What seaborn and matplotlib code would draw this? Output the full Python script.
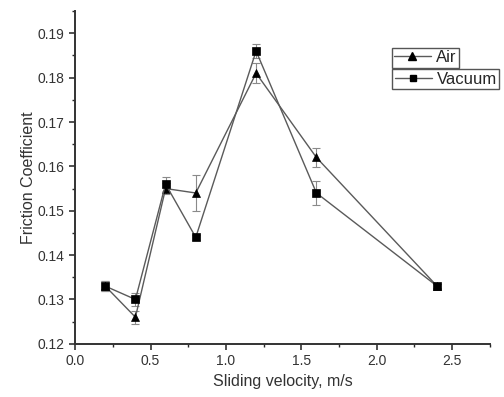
import pandas as pd
import seaborn as sns
import matplotlib.pyplot as plt
from matplotlib.lines import Line2D
from matplotlib.ticker import MultipleLocator

# Data
velocity = [0.2, 0.4, 0.6, 0.8, 1.2, 1.6, 2.4]
air = [0.133, 0.126, 0.155, 0.154, 0.181, 0.162, 0.133]
air_err = [0.0012, 0.0015, 0.0012, 0.0040, 0.0022, 0.0022, 0.0005]
vacuum = [0.133, 0.130, 0.156, 0.144, 0.186, 0.154, 0.133]
vacuum_err = [0.0012, 0.0015, 0.0015, 0.0005, 0.0015, 0.0027, 0.0005]

df = pd.concat([
    pd.DataFrame({'velocity': velocity, 'cof': air, 'err': air_err, 'env': 'Air'}),
    pd.DataFrame({'velocity': velocity, 'cof': vacuum, 'err': vacuum_err, 'env': 'Vacuum'}),
])

sns.set_style('ticks')
plt.rcParams['font.family'] = ['Liberation Sans', 'DejaVu Sans']

fig = plt.figure(figsize=(5.04, 3.97), dpi=100)
ax = fig.add_axes([0.149, 0.134, 0.823, 0.838])

line_col = '#5a5a5a'
# error bars first so the markers sit on top
for env, sub in df.groupby('env'):
    ax.errorbar(sub['velocity'], sub['cof'], yerr=sub['err'], fmt='none',
                ecolor='#8a8a8a', elinewidth=0.8, capsize=3, capthick=0.8)

sns.lineplot(data=df, x='velocity', y='cof', hue='env', style='env',
             markers={'Air': '^', 'Vacuum': 's'}, dashes=False,
             palette={'Air': line_col, 'Vacuum': line_col},
             markersize=5.5, markerfacecolor='black', markeredgecolor='black',
             markeredgewidth=0.5, linewidth=1.0, legend=False, ax=ax)

ax.set_xlim(0, 2.75)
ax.set_ylim(0.12, 0.195)
ax.xaxis.set_minor_locator(MultipleLocator(0.25))
ax.yaxis.set_major_locator(MultipleLocator(0.01))
ax.yaxis.set_minor_locator(MultipleLocator(0.005))
ax.set_xticks([0, 0.5, 1.0, 1.5, 2.0, 2.5])
ax.set_xticklabels(['0.0', '0.5', '1.0', '1.5', '2.0', '2.5'])
ax.tick_params(which='major', length=4, width=1.2, labelsize=10, colors='#333333')
ax.tick_params(which='minor', length=2.5, width=1.0)
for s in ['left', 'bottom']:
    ax.spines[s].set_linewidth(1.4)
    ax.spines[s].set_color('#333333')
sns.despine(ax=ax)

ax.set_xlabel('Sliding velocity, m/s', fontsize=11.5, color='#333333')
ax.set_ylabel('Friction Coefficient', fontsize=11.5, color='#333333', labelpad=1)

# two stacked legend boxes, like the original
h_air = Line2D([], [], color=line_col, marker='^', markerfacecolor='black',
               markeredgecolor='black', markersize=6, linewidth=1.0)
h_vac = Line2D([], [], color=line_col, marker='s', markerfacecolor='black',
               markeredgecolor='black', markersize=5, linewidth=1.0)
leg_kw = dict(fontsize=12, frameon=True, fancybox=False, handlelength=2.2,
              handletextpad=0.3, borderpad=0.15, borderaxespad=0,
              edgecolor='#555555', framealpha=1)
leg1 = ax.legend([h_air], ['Air'], loc='upper left',
                 bbox_to_anchor=(0.763, 0.89), **leg_kw)
ax.add_artist(leg1)
ax.legend([h_vac], ['Vacuum'], loc='upper left',
          bbox_to_anchor=(0.765, 0.826), **leg_kw)

fig.savefig('out.png', dpi=100)
